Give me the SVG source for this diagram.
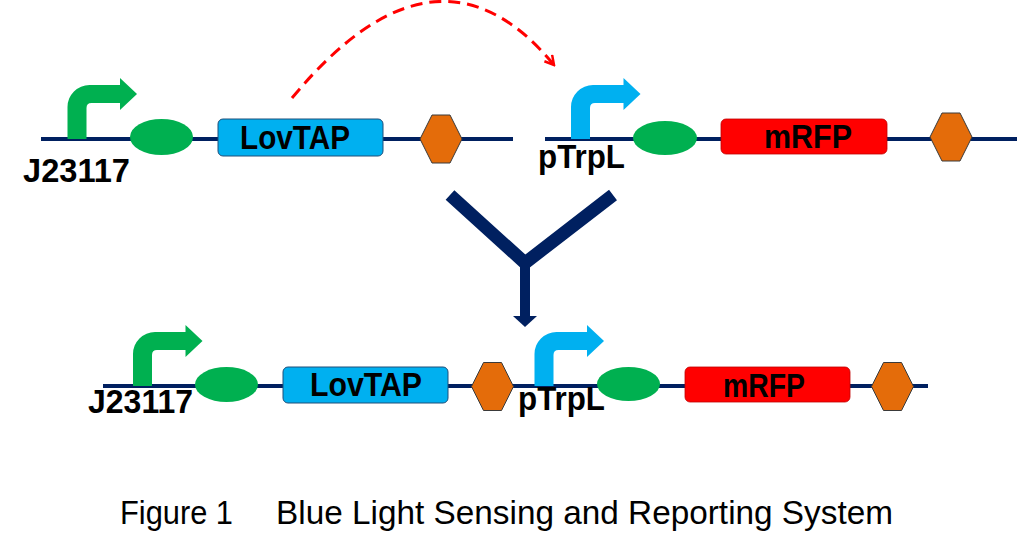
<svg xmlns="http://www.w3.org/2000/svg" width="1017" height="557" viewBox="0 0 1017 557">
<defs>
<style>
.bb{stroke:#002060;stroke-width:4;fill:none}
.rbs{fill:#00B050}
.term{fill:#E46C0A;stroke:#3a3a3a;stroke-width:1}
.lov{fill:#00B0F0;stroke:#1f4e79;stroke-width:1}
.rfp{fill:#FF0000;stroke:#c00000;stroke-width:0.8}
.lbl{font-family:"Liberation Sans",Arial,sans-serif;font-weight:bold;font-size:34px;fill:#000}
.cap{font-family:"Liberation Sans",Arial,sans-serif;font-size:33px;fill:#000}
</style>
<path id="prom" d="M-9.5,0 V-32 A22,22 0 0 1 12.5,-54 H43 V-61 L60,-45 L43,-29 V-36 H14.5 Q9.5,-36 9.5,-31 V0 Z"/>
<polygon id="hex" points="-21,0 -9,-24 9,-24 21,0 9,24 -9,24"/>
<marker id="openArrow" viewBox="0 0 12 12" refX="10" refY="6" markerWidth="12" markerHeight="12" markerUnits="userSpaceOnUse" orient="auto">
<path d="M1,1 L10,6 L1,11" fill="none" stroke="#FF0000" stroke-width="2.5"/>
</marker>
</defs>
<rect width="1017" height="557" fill="#fff"/>

<g id="connectors">
<path d="M292,98 Q437,-77 554,65" fill="none" stroke="#FF0000" stroke-width="3" stroke-dasharray="12,7" marker-end="url(#openArrow)"/>
<path d="M450,195 L525,263 L613,195" fill="none" stroke="#002060" stroke-width="13" stroke-linejoin="miter"/>
<path d="M525,262 V317" fill="none" stroke="#002060" stroke-width="10"/>
<polygon points="513,316 537,316 525,327" fill="#002060"/>
</g>

<g id="construct-top-left">
<line class="bb" x1="41" y1="139" x2="513" y2="139"/>
<use href="#prom" x="77" y="139" fill="#00B050"/>
<text class="lbl" x="23" y="182" textLength="107" lengthAdjust="spacingAndGlyphs">J23117</text>
<ellipse class="rbs" cx="161.5" cy="137" rx="31.5" ry="18"/>
<rect class="lov" x="218" y="119" width="165" height="37" rx="5"/>
<text class="lbl" x="240" y="149" textLength="110" lengthAdjust="spacingAndGlyphs">LovTAP</text>
<use href="#hex" x="441" y="139" class="term"/>
</g>

<g id="construct-top-right">
<line class="bb" x1="545" y1="139" x2="1017" y2="139"/>
<use href="#prom" x="580.5" y="139" fill="#00B0F0"/>
<text class="lbl" x="538" y="168" textLength="87" lengthAdjust="spacingAndGlyphs">pTrpL</text>
<ellipse class="rbs" cx="665" cy="138" rx="32" ry="17"/>
<rect class="rfp" x="721" y="119" width="166" height="35" rx="5"/>
<text class="lbl" x="764" y="148" textLength="88" lengthAdjust="spacingAndGlyphs">mRFP</text>
<use href="#hex" x="951" y="137" class="term"/>
</g>

<g id="construct-bottom">
<line class="bb" x1="103" y1="386" x2="928" y2="386"/>
<use href="#prom" x="142.5" y="386" fill="#00B050"/>
<text class="lbl" x="88" y="413" textLength="105" lengthAdjust="spacingAndGlyphs">J23117</text>
<ellipse class="rbs" cx="226.5" cy="384.5" rx="31.5" ry="17.5"/>
<rect class="lov" x="283" y="367" width="165" height="36" rx="5"/>
<text class="lbl" x="310" y="396" textLength="112" lengthAdjust="spacingAndGlyphs">LovTAP</text>
<use href="#hex" x="492.5" y="386.5" class="term"/>
<use href="#prom" x="544" y="386" fill="#00B0F0"/>
<text class="lbl" x="518" y="410" textLength="87" lengthAdjust="spacingAndGlyphs">pTrpL</text>
<ellipse class="rbs" cx="628.5" cy="384" rx="31.5" ry="17"/>
<rect class="rfp" x="685" y="367" width="165" height="35" rx="5"/>
<text class="lbl" x="723" y="397" textLength="82" lengthAdjust="spacingAndGlyphs">mRFP</text>
<use href="#hex" x="892.5" y="386.5" class="term"/>
</g>

<g id="caption">
<text class="cap" x="120" y="524" textLength="113" lengthAdjust="spacingAndGlyphs">Figure 1</text>
<text class="cap" x="276" y="524" textLength="617" lengthAdjust="spacingAndGlyphs">Blue Light Sensing and Reporting System</text>
</g>
</svg>
